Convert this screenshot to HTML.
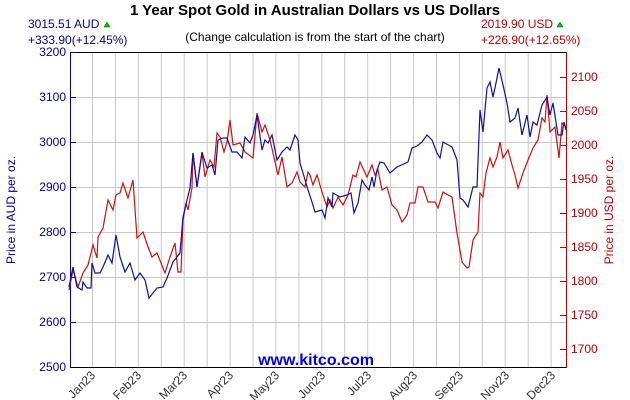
<!DOCTYPE html>
<html><head><meta charset="utf-8"><style>
body{margin:0;background:#fff}
svg{display:block;font-family:"Liberation Sans",Arial,sans-serif}
</style></head><body>
<svg width="630" height="400" viewBox="0 0 630 400" xmlns="http://www.w3.org/2000/svg">
<rect width="630" height="400" fill="#fff"/>
<g stroke="#c8c8c8" stroke-width="1">
<line x1="92.5" y1="52" x2="92.5" y2="367"/><line x1="115.4" y1="52" x2="115.4" y2="367"/><line x1="138.4" y1="52" x2="138.4" y2="367"/><line x1="161.3" y1="52" x2="161.3" y2="367"/><line x1="184.2" y1="52" x2="184.2" y2="367"/><line x1="207.2" y1="52" x2="207.2" y2="367"/><line x1="230.1" y1="52" x2="230.1" y2="367"/><line x1="253" y1="52" x2="253" y2="367"/><line x1="275.9" y1="52" x2="275.9" y2="367"/><line x1="298.9" y1="52" x2="298.9" y2="367"/><line x1="321.8" y1="52" x2="321.8" y2="367"/><line x1="344.7" y1="52" x2="344.7" y2="367"/><line x1="367.7" y1="52" x2="367.7" y2="367"/><line x1="390.6" y1="52" x2="390.6" y2="367"/><line x1="413.5" y1="52" x2="413.5" y2="367"/><line x1="436.5" y1="52" x2="436.5" y2="367"/><line x1="459.4" y1="52" x2="459.4" y2="367"/><line x1="482.3" y1="52" x2="482.3" y2="367"/><line x1="505.2" y1="52" x2="505.2" y2="367"/><line x1="528.2" y1="52" x2="528.2" y2="367"/><line x1="551.1" y1="52" x2="551.1" y2="367"/>
<line x1="70" y1="97.5" x2="567" y2="97.5"/><line x1="70" y1="142.5" x2="567" y2="142.5"/><line x1="70" y1="187.5" x2="567" y2="187.5"/><line x1="70" y1="232.5" x2="567" y2="232.5"/><line x1="70" y1="277.5" x2="567" y2="277.5"/><line x1="70" y1="322.5" x2="567" y2="322.5"/>
</g>
<line x1="70" y1="52.5" x2="567" y2="52.5" stroke="#000"/>
<line x1="70" y1="367.5" x2="567" y2="367.5" stroke="#000"/>
<line x1="70.5" y1="52" x2="70.5" y2="368" stroke="#00009a"/>
<line x1="566.5" y1="52" x2="566.5" y2="368" stroke="#c00000"/>
<g stroke="#00009a"><line x1="70" y1="52.5" x2="76" y2="52.5"/><line x1="70" y1="97.5" x2="76" y2="97.5"/><line x1="70" y1="142.5" x2="76" y2="142.5"/><line x1="70" y1="187.5" x2="76" y2="187.5"/><line x1="70" y1="232.5" x2="76" y2="232.5"/><line x1="70" y1="277.5" x2="76" y2="277.5"/><line x1="70" y1="322.5" x2="76" y2="322.5"/></g>
<g stroke="#c00000"><line x1="560" y1="77.5" x2="567" y2="77.5"/><line x1="560" y1="111.5" x2="567" y2="111.5"/><line x1="560" y1="145.5" x2="567" y2="145.5"/><line x1="560" y1="179.5" x2="567" y2="179.5"/><line x1="560" y1="213.5" x2="567" y2="213.5"/><line x1="560" y1="247.5" x2="567" y2="247.5"/><line x1="560" y1="281.5" x2="567" y2="281.5"/><line x1="560" y1="315.5" x2="567" y2="315.5"/><line x1="560" y1="349.5" x2="567" y2="349.5"/></g>
<g font-size="12" fill="#00009a" text-anchor="end">
<text x="66" y="56">3200</text><text x="66" y="101">3100</text><text x="66" y="146">3000</text><text x="66" y="191">2900</text><text x="66" y="236">2800</text><text x="66" y="281">2700</text><text x="66" y="326">2600</text><text x="66" y="371">2500</text>
</g>
<g font-size="12" fill="#c00000">
<text x="571" y="81">2100</text><text x="571" y="115">2050</text><text x="571" y="149">2000</text><text x="571" y="183">1950</text><text x="571" y="217">1900</text><text x="571" y="251">1850</text><text x="571" y="285">1800</text><text x="571" y="319">1750</text><text x="571" y="353">1700</text>
</g>
<text transform="translate(15,210) rotate(-90)" font-size="12" fill="#00009a" text-anchor="middle">Price in AUD per oz.</text>
<text transform="translate(613,210) rotate(-90)" font-size="12" fill="#c00000" text-anchor="middle">Price in USD per oz.</text>
<g font-size="12" fill="#333" text-anchor="end">
<text transform="translate(96,376) rotate(-45)">Jan23</text><text transform="translate(142,376) rotate(-45)">Feb23</text><text transform="translate(188,376) rotate(-45)">Mar23</text><text transform="translate(234,376) rotate(-45)">Apr23</text><text transform="translate(280,376) rotate(-45)">May23</text><text transform="translate(326,376) rotate(-45)">Jun23</text><text transform="translate(372,376) rotate(-45)">Jul23</text><text transform="translate(418,376) rotate(-45)">Aug23</text><text transform="translate(464,376) rotate(-45)">Sep23</text><text transform="translate(510,376) rotate(-45)">Nov23</text><text transform="translate(556,376) rotate(-45)">Dec23</text>
</g>
<text x="315" y="15" font-size="15" font-weight="bold" text-anchor="middle" fill="#000">1 Year Spot Gold in Australian Dollars vs US Dollars</text>
<text x="315" y="41" font-size="12" text-anchor="middle" fill="#000">(Change calculation is from the start of the chart)</text>
<text x="28" y="28" font-size="12" fill="#00009a">3015.51 AUD</text>
<polygon points="104,27 110,27 107,22" fill="#00c000" stroke="#006000" stroke-width="0.5"/>
<text x="28" y="44" font-size="12" fill="#00009a">+333.90(+12.45%)</text>
<text x="481" y="28" font-size="12" fill="#c00000">2019.90 USD</text>
<polygon points="557,27 563,27 560,22" fill="#00c000" stroke="#006000" stroke-width="0.5"/>
<text x="481" y="44" font-size="12" fill="#c00000">+226.90(+12.65%)</text>
<text x="316" y="365" font-size="16" font-weight="bold" text-anchor="middle" fill="#0000ee">www.kitco.com</text>
<polyline fill="none" stroke="#d01010" stroke-width="1.2" points="69,290 73,270 78,287 83,273 88,265 93,245 97,258 98,237 103,228 108,200 113,210 116,195 120,193 123,183 128,198 133,180 137,238 143,232 148,247 152,257 157,253 165,273 170,257 175,243 178,272 181,272 183,220 186,203 188,210 192,188 193,153 197,187 202,153 205,177 210,160 214,167 217,133 220,137 224,152 227,142 230,120 233,145 240,143 245,152 253,158 257,113 262,132 265,125 270,140 273,153 278,175 282,157 287,187 292,183 297,172 300,182 305,187 308,172 310,175 313,185 317,175 322,192 327,207 330,200 333,208 338,197 343,205 348,195 353,175 356,177 360,162 367,177 372,165 375,175 378,170 382,190 387,187 392,205 397,210 402,222 407,215 410,203 415,203 418,187 423,187 428,202 435,202 438,208 443,192 448,195 452,197 457,233 462,262 467,268 469,267 473,240 478,232 480,193 483,197 486,173 490,158 493,167 497,157 500,142 503,158 508,150 512,165 515,175 518,188 523,173 528,160 533,148 538,140 542,118 545,122 547,95 550,132 555,127 559,158 562,123 566,127"/>
<polyline fill="none" stroke="#1010a0" stroke-width="1.2" points="69,287 73,267 77,287 82,290 83,282 87,288 91,288 92,263 95,273 100,273 103,267 108,255 112,263 116,235 120,257 125,272 130,263 135,280 140,273 145,280 149,298 157,288 163,287 167,278 173,262 180,253 183,217 187,200 190,188 193,153 197,187 202,152 207,168 212,165 215,175 218,140 223,138 227,138 232,152 237,152 242,158 245,137 250,143 253,135 257,115 262,150 265,140 268,143 272,135 277,160 282,152 287,147 290,150 295,135 298,140 300,163 303,173 308,190 312,202 315,212 322,210 325,218 328,198 332,207 333,193 340,197 347,195 351,193 354,213 358,203 362,180 365,185 369,190 372,177 374,187 377,170 380,162 384,163 390,173 397,167 408,162 412,148 417,146 422,142 427,135 432,140 437,153 440,158 443,142 452,147 457,160 460,198 463,200 468,207 473,187 477,187 480,110 483,132 487,88 490,82 493,97 496,83 499,68 503,85 507,103 510,122 515,118 518,108 522,135 527,115 530,137 533,122 537,125 542,105 547,97 550,115 553,103 558,135 562,135 564,122 566,130"/>
</svg>
</body></html>
